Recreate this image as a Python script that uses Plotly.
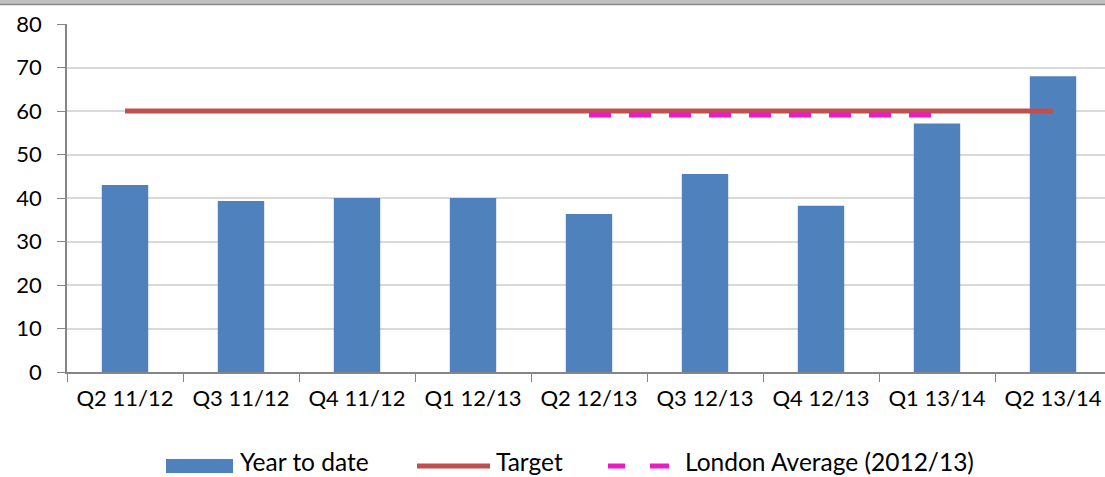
import plotly.graph_objects as go

categories = ["Q2 11/12", "Q3 11/12", "Q4 11/12", "Q1 12/13", "Q2 12/13",
              "Q3 12/13", "Q4 12/13", "Q1 13/14", "Q2 13/14"]
year_to_date = [43.0, 39.3, 40.0, 40.0, 36.3, 45.5, 38.2, 57.1, 68.0]
target = [60, 60, 60, 60, 60, 60, 60, 60, 60]
london_avg = [None, None, None, None, 59.1, 59.1, 59.1, 59.1, None]
y_ticks = [0, 10, 20, 30, 40, 50, 60, 70, 80]
legend_labels = ["Year to date", "Target", "London Average (2012/13)"]

FONT = "Lato"
FS = 22
LFS = 24.5
W, H = 1105, 477
ml, mt, mb = 67, 24, 105
plot_h = H - mt - mb
plot_w = W - ml
cat_w = 116.0

BLUE = "#4F81BD"
RED = "#C0504D"
MAGENTA = "#E81CC0"

def py(p):
    return (H - mb - p) / plot_h

def px(p):
    return (p - ml) / plot_w

fig = go.Figure()
fig.add_trace(go.Bar(x=categories, y=year_to_date, name=legend_labels[0],
                     marker=dict(color=BLUE, line=dict(width=0)), width=0.4))
fig.add_trace(go.Scatter(x=categories, y=target, name=legend_labels[1], mode="lines",
                         line=dict(color=RED, width=5)))
fig.add_trace(go.Scatter(x=categories, y=london_avg, name=legend_labels[2],
                         mode="lines", connectgaps=False,
                         line=dict(color=MAGENTA, width=5, dash="22px,18px")))

ly = 466
shapes = [
    # top band (edge of surrounding page)
    dict(type="rect", xref="paper", yref="paper", x0=-0.1, x1=1.1,
         y0=py(4), y1=py(-2), fillcolor="#C0C0C0", line=dict(width=0), layer="above"),
    dict(type="line", xref="paper", yref="paper", x0=-0.1, x1=1.1,
         y0=py(4.5), y1=py(4.5), line=dict(color="#8C8C8C", width=1.5), layer="above"),
    # legend swatches
    dict(type="rect", xref="paper", yref="paper", x0=px(166), x1=px(233),
         y0=py(473), y1=py(459), fillcolor=BLUE, line=dict(width=0)),
    dict(type="line", xref="paper", yref="paper", x0=px(417), x1=px(490),
         y0=py(ly), y1=py(ly), line=dict(color=RED, width=5)),
    dict(type="line", xref="paper", yref="paper", x0=px(608), x1=px(625),
         y0=py(ly), y1=py(ly), line=dict(color=MAGENTA, width=5)),
    dict(type="line", xref="paper", yref="paper", x0=px(650), x1=px(669),
         y0=py(ly), y1=py(ly), line=dict(color=MAGENTA, width=5)),
]
annotations = []
for lbl, xpos in zip(legend_labels, [238, 494, 683]):
    annotations.append(dict(text=lbl, xref="paper", yref="paper", x=px(xpos), y=py(461),
                            xanchor="left", yanchor="middle", showarrow=False,
                            font=dict(family=FONT, size=LFS, color="black")))

fig.update_layout(
    width=W, height=H,
    margin=dict(l=ml, r=0, t=mt, b=mb, autoexpand=False),
    paper_bgcolor="white", plot_bgcolor="white",
    font=dict(family=FONT, size=FS, color="black"),
    showlegend=False,
    bargap=0.6,
    shapes=shapes,
    annotations=annotations,
)
fig.update_xaxes(type="category", range=[-0.5, -0.5 + plot_w / cat_w], showgrid=False,
                 showline=True, linecolor="#868686", linewidth=1.5, automargin=False,
                 ticks="outside", tickson="boundaries", ticklen=8, tickcolor="#868686",
                 ticklabelstandoff=6,
                 tickfont=dict(family=FONT, size=FS))
fig.update_yaxes(range=[0, 80], tickvals=y_ticks, showgrid=True, gridcolor="#D9D9D9",
                 gridwidth=1.5, showline=True, linecolor="#868686", linewidth=1.5,
                 ticks="outside", ticklen=8, tickcolor="#868686", zeroline=False,
                 automargin=False, ticklabelstandoff=11,
                 tickfont=dict(family=FONT, size=FS))

fig.write_html("out.html", config={"displayModeBar": False},
               post_script="document.body.style.margin='0';")
